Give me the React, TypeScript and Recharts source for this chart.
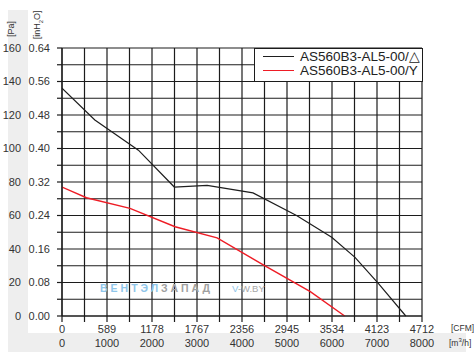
import React from 'react';
import { LineChart, Line, XAxis, YAxis, CartesianGrid, Legend } from 'recharts';

const deltaCfm = [0, 430, 1000, 1470, 1900, 2500, 3070, 3530, 3835, 4140, 4500];
const deltaPa = [136, 117, 99, 77, 78, 73.5, 60, 47, 35, 19.5, 0];
const starCfm = [0, 320, 890, 1480, 2030, 2640, 3250, 3700];
const starPa = [77, 70.6, 64.3, 53.3, 46.7, 30.4, 14.5, 0];

const cfmTicks = [0, 589, 1178, 1767, 2356, 2945, 3534, 4123, 4712];
const m3hTicks = [0, 1000, 2000, 3000, 4000, 5000, 6000, 7000, 8000];
const paTicks = [0, 20, 40, 60, 80, 100, 120, 140, 160];
const inh2oTicks = [0, 0.08, 0.16, 0.24, 0.32, 0.4, 0.48, 0.56, 0.64];

const seriesNames = ['AS560B3-AL5-00/\u25B3', 'AS560B3-AL5-00/Y'];
const seriesColors = ['#1e1e1e', '#ee1c25'];

// grid has a line halfway between every labelled tick
const withHalves = (t: number[]) =>
  t.flatMap((v, i) => (i === 0 ? [v] : [(t[i - 1] + v) / 2, v]));

const deltaData = deltaCfm.map((cfm, i) => ({ cfm, pa: deltaPa[i] }));
const starData = starCfm.map((cfm, i) => ({ cfm, pa: starPa[i] }));

const FONT = '"Liberation Sans", Arial, sans-serif';
const tickStyle = { fill: '#333', fontSize: 11, fontFamily: FONT };
const GRID = '#1c1c1c';

// bottom axis: CFM row with the m3/h row under it
const FlowTick = (props: any) => {
  const { x, y, index } = props;
  if (index % 2 !== 0) return <g />;
  const k = index / 2;
  return (
    <g>
      <text x={x} y={y} dy={8} textAnchor="middle" {...tickStyle}>{cfmTicks[k]}</text>
      <text x={x} y={y} dy={22} textAnchor="middle" {...tickStyle}>{m3hTicks[k]}</text>
    </g>
  );
};

const LegendBox = () => (
  <div
    style={{
      width: 167, height: 31, background: '#fff', border: `1px solid ${GRID}`,
      fontFamily: FONT, fontSize: 13.5, color: '#222', paddingTop: 1,
    }}
  >
    {seriesNames.map((name, i) => (
      <div key={i} style={{ display: 'flex', alignItems: 'center', height: 13.5 }}>
        <div style={{ width: 31, height: 0, borderTop: `1.2px solid ${seriesColors[i]}`, margin: '0 6px 0 8px' }} />
        <span style={{ lineHeight: '13px' }}>{name}</span>
      </div>
    ))}
  </div>
);

export default function App() {
  return (
    <div style={{ position: 'absolute', left: 0, top: 0, width: 474, height: 352, background: '#fff', fontFamily: FONT }}>
      {/* light grey frame behind the units */}
      <div style={{ position: 'absolute', left: 8, top: 10, width: 20, height: 342, background: '#eeeeee' }} />
      <div style={{ position: 'absolute', left: 8, top: 333, width: 458, height: 19, background: '#eeeeee' }} />

      <div style={{ position: 'absolute', left: 0, top: 0 }}>
        <LineChart width={474} height={352} margin={{ top: 48, right: 52, left: 0, bottom: 0 }}>
          <CartesianGrid
            xAxisId="cfm" yAxisId="in"
            stroke={GRID} strokeWidth={1.2} strokeOpacity={1}
          />
          <XAxis
            xAxisId="cfm" dataKey="cfm" type="number" domain={[0, 4712]}
            ticks={withHalves(cfmTicks)} interval={0} allowDataOverflow
            height={36} tickSize={6} tickMargin={3}
            stroke={GRID} strokeWidth={1.2} tick={(p: any) => <FlowTick {...p} />}
          />
          <YAxis
            yAxisId="in" type="number" domain={[0, 0.64]}
            ticks={withHalves(inh2oTicks)} interval={0} allowDataOverflow
            tickFormatter={(v, i) => (i % 2 === 0 ? inh2oTicks[i / 2].toFixed(2) : '')}
            width={34} tickSize={5} tickMargin={7}
            stroke={GRID} strokeWidth={1.2} tick={tickStyle}
          />
          <YAxis
            yAxisId="pa" type="number" domain={[0, 160]} ticks={paTicks}
            interval={0} width={28} tickSize={0} tickMargin={7}
            axisLine={false} tickLine={false} tick={tickStyle}
          />
          <Legend
            layout="vertical" align="center" verticalAlign="middle"
            wrapperStyle={{ left: 254, top: 48, width: 169 }}
            content={<LegendBox />}
          />
          <Line
            xAxisId="cfm" yAxisId="pa" data={deltaData} dataKey="pa" name={seriesNames[0]}
            type="linear" stroke={seriesColors[0]} strokeWidth={1.2} dot={false}
            isAnimationActive={false}
          />
          <Line
            xAxisId="cfm" yAxisId="pa" data={starData} dataKey="pa" name={seriesNames[1]}
            type="linear" stroke={seriesColors[1]} strokeWidth={1.4} dot={false}
            isAnimationActive={false}
          />
        </LineChart>
      </div>

      {/* axis units */}
      <div style={{ position: 'absolute', left: -4, top: 24, width: 30, fontSize: 9, color: '#333', transform: 'rotate(-90deg)', textAlign: 'center' }}>
        [Pa]
      </div>
      <div style={{ position: 'absolute', left: 19, top: 19, width: 38, fontSize: 9, color: '#333', transform: 'rotate(-90deg)', textAlign: 'center' }}>
        [inH<sub style={{ fontSize: 6 }}>2</sub>O]
      </div>
      <div style={{ position: 'absolute', left: 451, top: 323, fontSize: 8.5, color: '#333' }}>[CFM]</div>
      <div style={{ position: 'absolute', left: 449, top: 337, fontSize: 8.5, color: '#333' }}>
        [m<sup style={{ fontSize: 6 }}>3</sup>/h]
      </div>

      {/* watermark */}
      <div style={{ position: 'absolute', left: 100, top: 282, fontSize: 10.5, fontWeight: 'bold', whiteSpace: 'nowrap', lineHeight: '12px' }}>
        <span style={{ color: '#8fc6ea', letterSpacing: 3 }}>ВЕНТЭЛ</span>
        <span style={{ color: '#a0a0a0', letterSpacing: 3 }}>ЗАПАД</span>
        <span style={{ marginLeft: 19, fontWeight: 'normal', fontSize: 9.5 }}>
          <span style={{ color: '#8fc6ea' }}>V</span>
          <span style={{ color: '#a8a8a8' }}>-W.BY</span>
        </span>
      </div>
    </div>
  );
}
